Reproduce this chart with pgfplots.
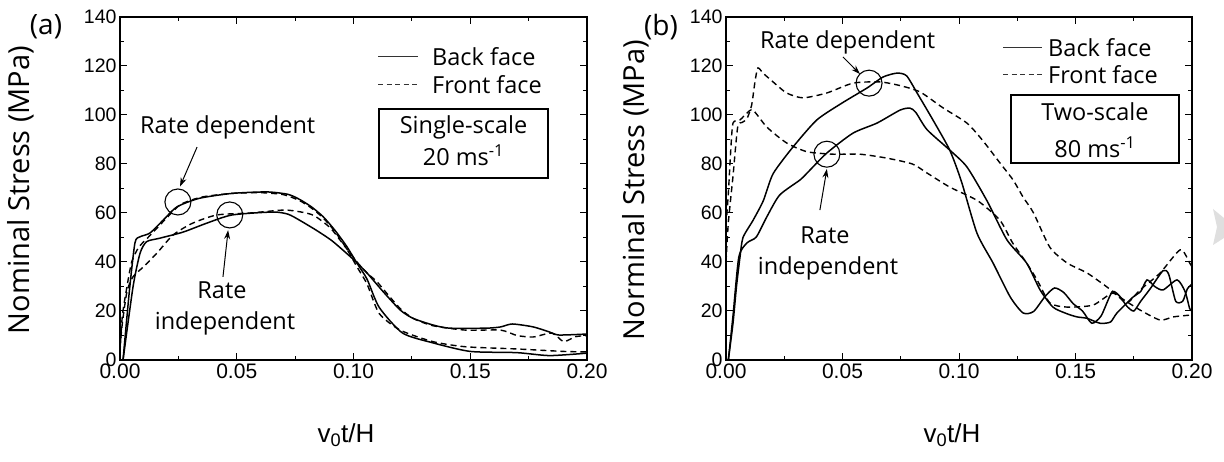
\documentclass[border=0pt]{standalone}
\usepackage{pgfplots}
\pgfplotsset{compat=1.18}
\usepackage{fontspec}
\setmainfont{Open Sans}
\newfontfamily\arial{Liberation Sans}
\usetikzlibrary{arrows.meta}

\pgfplotsset{
  panel/.style={
    scale only axis, width=467pt, height=343pt,
    xmin=0, xmax=0.2, ymin=0, ymax=140,
    xtick={0,0.05,0.1,0.15,0.2}, ytick={0,20,40,60,80,100,120,140},
    minor x tick num=1, minor y tick num=1,
    tick align=inside, major tick length=7pt, minor tick length=4pt,
    axis line style={line width=1.3pt},
    every tick/.style={line width=1pt, black},
    scaled x ticks=false,
    x tick label style={font=\arial\fontsize{21}{21}\selectfont,
      /pgf/number format/.cd, fixed, fixed zerofill, precision=2, assume math mode=true},
    y tick label style={font=\arial\fontsize{19.5}{19.5}\selectfont,
      /pgf/number format/assume math mode=true},
  },
  sol/.style={black, line width=1.5pt, smooth, tension=0.4},
  das/.style={black, line width=1.4pt, smooth, tension=0.4, dash pattern=on 6pt off 4pt},
}

\begin{document}
\begin{tikzpicture}
\useasboundingbox (0,0) rectangle (1224pt,461pt);

% ---------------- panel (a)
\begin{axis}[panel, at={(120pt,101pt)}, anchor=south west]
% rate dependent, back face
\addplot[sol] coordinates {(0.0013,0) (0.004,28) (0.0064,47.8) (0.0086,50.3) (0.0128,51.8) (0.0184,57) (0.0244,62.5) (0.034,66) (0.048,68) (0.063,68.6) (0.072,67.6) (0.077,65.5) (0.082,62.5) (0.087,58.5) (0.092,53) (0.097,46.5) (0.1015,39.5) (0.1058,33) (0.111,21.5) (0.121,11) (0.134,7) (0.15,3.5) (0.17,3) (0.184,1.8) (0.2,2.8)};
% rate dependent, front face
\addplot[das] coordinates {(0,3) (0.001,18) (0.003,30) (0.005,40) (0.008,46) (0.012,50) (0.016,54) (0.02,58) (0.026,63.5) (0.035,66.5) (0.048,68) (0.06,68.3) (0.07,67.5) (0.077,65) (0.082,62) (0.087,58) (0.092,52.5) (0.097,45.5) (0.1015,38) (0.1058,31) (0.111,19) (0.12,12.2) (0.134,7.5) (0.148,5.4) (0.17,4.5) (0.19,3.5) (0.2,3.3)};
% rate independent, back face
\addplot[sol] coordinates {(0.0013,0) (0.0056,30) (0.0086,43.6) (0.0114,48.3) (0.017,49.7) (0.027,52.2) (0.037,55.8) (0.048,59.2) (0.0655,60.4) (0.072,59.5) (0.077,57) (0.084,53) (0.091,48.5) (0.1,41) (0.1058,35.5) (0.1126,28) (0.12,20.4) (0.1255,17) (0.134,14.3) (0.141,13) (0.157,13) (0.163,13.5) (0.168,14.7) (0.177,13.5) (0.184,11.4) (0.188,10.2) (0.2,10.6)};
% rate independent, front face
\addplot[das] coordinates {(0,5) (0.001,15) (0.003,28) (0.0056,34) (0.01,38) (0.0158,43.6) (0.0227,51) (0.031,55.8) (0.0415,59.2) (0.0557,60) (0.07,61.2) (0.077,60.5) (0.083,59) (0.09,54) (0.095,48) (0.1015,40) (0.1058,35.5) (0.11,32) (0.114,27.5) (0.12,21) (0.1255,17) (0.134,14) (0.148,12.2) (0.163,12.2) (0.17,10) (0.177,9.4) (0.185,11) (0.19,7.5) (0.195,9.5) (0.2,10)};
\draw[line width=1.1pt] (axis cs:0.0248,64.5) circle[radius=13pt];
\draw[line width=1.1pt] (axis cs:0.047,59.2) circle[radius=13pt];
\draw[line width=1pt, -{Stealth[length=9pt,width=6pt]}] (axis cs:0.033,86.9) -- (axis cs:0.0257,70.8);
\draw[line width=1pt, -{Stealth[length=9pt,width=6pt]}] (axis cs:0.0441,33.9) -- (axis cs:0.0463,53);
\end{axis}

% ---------------- panel (b)
\begin{axis}[panel, width=466pt, at={(726pt,101pt)}, anchor=south west]
% rate dependent, back face
\addplot[sol] coordinates {(0.001,0) (0.003,15) (0.0045,30) (0.006,42) (0.0073,50) (0.0116,57) (0.016,65) (0.0202,76) (0.0288,87) (0.039,98) (0.05,105) (0.0605,111) (0.0674,115.5) (0.0734,117.1) (0.0775,116) (0.082,109) (0.0888,98) (0.096,85.7) (0.101,73) (0.1077,51.8) (0.1146,39.6) (0.122,25.7) (0.1275,19.2) (0.132,19.8) (0.137,26) (0.141,29.4) (0.145,27.5) (0.149,23) (0.153,20) (0.157,15) (0.161,18) (0.1657,27.8) (0.169,26) (0.172,22) (0.175,20) (0.178,24) (0.182,29) (0.1876,36.5) (0.19,35) (0.193,24) (0.196,24) (0.198,29) (0.2,31)};
% rate dependent, front face
\addplot[das] coordinates {(0,40) (0.001,56) (0.003,75) (0.005,95) (0.007,97) (0.009,98.5) (0.011,104) (0.0125,114) (0.0137,119.2) (0.016,117) (0.0202,113.5) (0.026,109) (0.033,107) (0.0433,109) (0.0545,113) (0.066,113.5) (0.0747,112) (0.0833,109.4) (0.093,103) (0.1034,96.7) (0.11,89.8) (0.1176,80.4) (0.1232,73.5) (0.1275,66.5) (0.132,60) (0.139,46) (0.1464,39.6) (0.155,35.5) (0.1635,29.8) (0.169,25.7) (0.1777,20.4) (0.1863,16.3) (0.192,17.6) (0.2,18.4)};
% rate independent, back face
\addplot[sol] coordinates {(0.001,0) (0.003,18) (0.0055,42) (0.009,47.8) (0.013,50.2) (0.0175,58.4) (0.023,67.3) (0.0318,73.5) (0.0348,76.3) (0.0433,84.5) (0.0545,92.6) (0.0648,96.7) (0.0747,102) (0.079,102.8) (0.0815,101) (0.0863,94) (0.096,85.7) (0.1034,78.8) (0.112,65) (0.1206,49) (0.129,39.6) (0.1348,28.6) (0.1403,21.6) (0.146,19) (0.1506,17.6) (0.155,17) (0.1605,15) (0.165,15.5) (0.1678,19.2) (0.1747,25.7) (0.178,28) (0.1807,32.7) (0.184,30) (0.1876,28.6) (0.1936,32.7) (0.197,28) (0.199,21) (0.2,20)};
% rate independent, front face
\addplot[das] coordinates {(0,55) (0.001,68) (0.002,85) (0.003,96.7) (0.006,98) (0.009,100.8) (0.0116,102) (0.0176,95) (0.026,88.6) (0.0348,85) (0.046,84) (0.0575,84) (0.069,82.4) (0.08,80) (0.0863,76.3) (0.096,70.6) (0.108,65) (0.1176,57) (0.123,47.8) (0.129,39.6) (0.1335,32.7) (0.139,23.3) (0.1464,21.6) (0.1575,22.4) (0.166,27.3) (0.172,23.3) (0.1777,28.6) (0.1863,35.5) (0.195,45) (0.199,39.6) (0.2,38)};
\draw[line width=1.1pt] (axis cs:0.0614,113) circle[radius=13pt];
\draw[line width=1.1pt] (axis cs:0.0433,84) circle[radius=13pt];
\draw[line width=1pt, -{Stealth[length=9pt,width=6pt]}] (axis cs:0.0502,123.7) -- (axis cs:0.0575,116.7);
\draw[line width=1pt, -{Stealth[length=9pt,width=6pt]}] (axis cs:0.0403,61.2) -- (axis cs:0.0433,78);
\end{axis}

% ---------------- text, panel (a)
\tikzset{lab/.style={inner sep=0pt, font=\fontsize{23.5}{28}\selectfont}}
\node[inner sep=0pt, font=\fontsize{28}{30}\selectfont] at (46pt,434pt) {(a)};
\node[inner sep=0pt, rotate=90, font=\fontsize{29}{30}\selectfont] at (21pt,271pt) {Nominal Stress (MPa)};
\node[inner sep=0pt, font=\arial\fontsize{26}{28}\selectfont] at (346pt,26pt) {v\textsubscript{0}t/H};
\node[lab, anchor=west] at (140pt,334pt) {Rate dependent};
\node[lab] at (222pt,171pt) {Rate};
\node[lab] at (225pt,138pt) {independent};
\draw[line width=1pt, black!80] (378pt,404pt) -- (418pt,404pt);
\draw[line width=1pt, black!80, dash pattern=on 5pt off 3.5pt] (378pt,376pt) -- (418pt,376pt);
\node[lab, anchor=west] at (432pt,404pt) {Back face};
\node[lab, anchor=west] at (432pt,376pt) {Front face};
\draw[line width=1.1pt] (379pt,352pt) rectangle (548pt,283pt);
\node[lab] at (463.5pt,334pt) {Single-scale};
\node[lab] at (463.5pt,306pt) {20 ms\textsuperscript{-1}};

% ---------------- text, panel (b)
\node[inner sep=0pt, font=\fontsize{28}{30}\selectfont] at (661pt,434pt) {(b)};
\node[inner sep=0pt, rotate=90, font=\fontsize{29}{30}\selectfont] at (636pt,271pt) {Norminal Stress (MPa)};
\node[inner sep=0pt, font=\arial\fontsize{26}{28}\selectfont] at (952pt,26pt) {v\textsubscript{0}t/H};
\node[lab, anchor=west] at (760pt,419pt) {Rate dependent};
\node[lab] at (825pt,226pt) {Rate};
\node[lab] at (828pt,193pt) {independent};
\draw[line width=1pt, black!80] (1003pt,413pt) -- (1042pt,413pt);
\draw[line width=1pt, black!80, dash pattern=on 5pt off 3.5pt] (1003pt,386pt) -- (1042pt,386pt);
\node[lab, anchor=west] at (1048pt,413pt) {Back face};
\node[lab, anchor=west] at (1048pt,386pt) {Front face};
\draw[line width=1.1pt] (1011pt,366pt) rectangle (1179pt,298pt);
\node[lab] at (1095pt,349pt) {Two-scale};
\node[lab] at (1095pt,314pt) {80 ms\textsuperscript{-1}};

% light grey mark at the right edge
\fill[gray!25] (1213pt,252pt) -- (1224pt,243pt) -- (1224pt,223pt) -- (1213pt,216pt) -- (1217pt,234pt) -- cycle;
\end{tikzpicture}
\end{document}
